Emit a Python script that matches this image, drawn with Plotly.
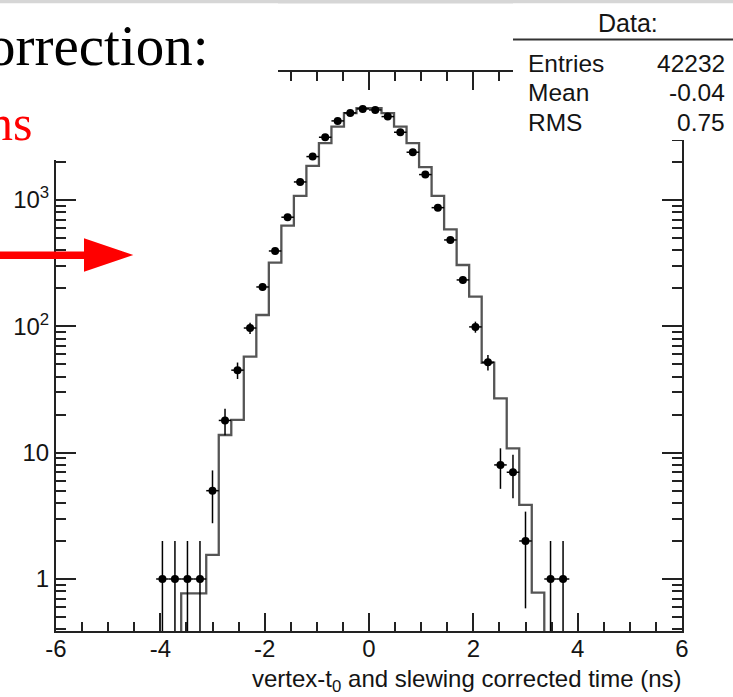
import numpy as np
import plotly.graph_objects as go

# ---------------- data ----------------
x_min, x_max, n_bins = -6.0, 6.0, 50
# measured data counts per bin (50 bins from -6 to 6)
data_counts = [0, 0, 0, 0, 0, 0, 0, 0,
               1, 1, 1, 1, 5, 18, 45, 97, 205, 395, 731, 1390,
               2207, 3140, 4230, 4895, 5265, 5165, 4575, 3440, 2390, 1590,
               870, 483, 233, 99, 52, 8, 7, 2, 0, 1,
               1, 0, 0, 0, 0, 0, 0, 0, 0, 0]
# simulation histogram (normalised) per bin
mc_counts = [0, 0, 0, 0, 0, 0, 0, 0, 0, 0,
             0.77, 0.77, 1.55, 13.8, 18.2, 57.6, 123, 319, 627, 1077,
             1862, 2820, 3810, 4865, 5330, 5330, 4865, 3810, 2820, 1820,
             1077, 586, 306, 172, 51.5, 26.9, 10.8, 3.86, 0.78, 0,
             0, 0, 0, 0, 0, 0, 0, 0, 0, 0]

stats_title = "Data:"
stats_labels = ["Entries", "Mean", "RMS"]
stats_values = ["42232", "-0.04", "0.75"]

x_tickvals = [-6, -4, -2, 0, 2, 4, 6]
x_ticktext = ["-6", "-4", "-2", "0", "2", "4", "6"]
y_tickvals = [1, 10, 100, 1000]
y_ticktext = ["1", "10", "10<sup>2</sup>", "10<sup>3</sup>"]
x_title = "vertex-t<sub>0</sub> and slewing corrected time (ns)"

# ---------------- geometry helpers ----------------
W, H = 733, 697
ML, MR, MT, MB = 56, 51, 72, 66
PW, PH = W - ML - MR, H - MT - MB


def px(xp):
    return (xp - ML) / PW


def py(yp):
    return (H - MB - yp) / PH


edges = np.linspace(x_min, x_max, n_bins + 1)
centers = 0.5 * (edges[:-1] + edges[1:])
half_w = 0.5 * (edges[1] - edges[0])

data = np.array(data_counts, dtype=float)
mc = np.array(mc_counts, dtype=float)

# step line for simulation histogram (zero bins dropped below the axis)
floor = 1e-3
mc_plot = np.where(mc > 0, mc, floor)
step_x = list(edges)
step_y = list(mc_plot) + [floor]

mask = data > 0
dx = centers[mask]
dy = data[mask]
err = np.sqrt(dy)
err_minus = np.minimum(err, dy * 0.999)

font_sans = "Liberation Sans, Arial, Helvetica, sans-serif"
font_serif = "Liberation Serif, Times New Roman, serif"
TXT = "#141414"

fig = go.Figure()
fig.add_trace(go.Scatter(
    x=step_x, y=step_y, mode="lines", line_shape="hv",
    line=dict(color="#555555", width=2.3), hoverinfo="skip"))
fig.add_trace(go.Scatter(
    x=dx, y=dy, mode="markers",
    marker=dict(color="black", size=8, symbol="circle"),
    error_y=dict(type="data", array=err, arrayminus=err_minus,
                 color="black", thickness=1.5, width=0),
    error_x=dict(type="constant", value=half_w, color="black",
                 thickness=1.5, width=0)))

axis_common = dict(showgrid=False, zeroline=False, showline=True,
                   linecolor="#222222", linewidth=2, mirror="allticks",
                   ticks="inside", tickcolor="#222222", tickwidth=1.5,
                   tickfont=dict(family=font_sans, size=24, color=TXT))

fig.update_xaxes(range=[x_min, x_max], tickvals=x_tickvals, ticktext=x_ticktext,
                 ticklen=18, ticklabelstandoff=-5,
                 minor=dict(ticks="inside", dtick=0.5, tick0=-6, ticklen=9,
                            tickcolor="#222222", tickwidth=1.5),
                 **axis_common)
fig.update_yaxes(type="log", range=[-0.4116, 4.0134],
                 tickvals=y_tickvals, ticktext=y_ticktext, ticklen=20,
                 minor=dict(ticks="inside", dtick="D1", ticklen=10,
                            tickcolor="#222222", tickwidth=1.5),
                 **axis_common)

shapes = []
# top grey band of the slide
shapes.append(dict(type="rect", xref="paper", yref="paper",
                   x0=px(-5), x1=px(W + 5), y0=py(3.5), y1=py(-5),
                   fillcolor="#d6d6d6", line=dict(width=0), layer="above"))
# white boxes hiding parts of the frame
shapes.append(dict(type="rect", xref="paper", yref="paper",
                   x0=px(-5), x1=px(278), y0=py(160), y1=py(3.5),
                   fillcolor="white", line=dict(width=0), layer="above"))
shapes.append(dict(type="rect", xref="paper", yref="paper",
                   x0=px(513), x1=px(W + 5), y0=py(140), y1=py(3.5),
                   fillcolor="white", line=dict(width=0), layer="above"))
# line under stats title
shapes.append(dict(type="line", xref="paper", yref="paper",
                   x0=px(513), x1=px(W + 5), y0=py(39.5), y1=py(39.5),
                   line=dict(color="#333333", width=2), layer="above"))
# red arrow
pts = [(-5, 251.5), (84, 251.5), (84, 238.3), (133.3, 255), (84, 271.7),
       (84, 259), (-5, 259)]
path = "M " + " L ".join(f"{px(a):.5f},{py(b):.5f}" for a, b in pts) + " Z"
shapes.append(dict(type="path", xref="paper", yref="paper", path=path,
                   fillcolor="#ff0000", line=dict(color="#ff0000", width=0),
                   layer="above"))

annotations = []
annotations.append(dict(text="orrection:", xref="paper", yref="paper",
                        x=px(211), y=py(45), xanchor="right", yanchor="middle",
                        showarrow=False,
                        font=dict(family=font_serif, size=57, color="black")))
annotations.append(dict(text="ns", xref="paper", yref="paper",
                        x=px(34), y=py(123), xanchor="right", yanchor="middle",
                        showarrow=False,
                        font=dict(family=font_serif, size=50, color="#ff0000")))
annotations.append(dict(text=stats_title, xref="paper", yref="paper",
                        x=px(628), y=py(23), xanchor="center", yanchor="middle",
                        showarrow=False,
                        font=dict(family=font_sans, size=25, color=TXT)))
for i, (lab, val) in enumerate(zip(stats_labels, stats_values)):
    yy = 63 + i * 29.5
    annotations.append(dict(text=lab, xref="paper", yref="paper",
                            x=px(526), y=py(yy), xanchor="left", yanchor="middle",
                            showarrow=False,
                            font=dict(family=font_sans, size=24.5, color=TXT)))
    annotations.append(dict(text=val, xref="paper", yref="paper",
                            x=px(727), y=py(yy), xanchor="right", yanchor="middle",
                            showarrow=False,
                            font=dict(family=font_sans, size=24.5, color=TXT)))
annotations.append(dict(text=x_title, xref="paper", yref="paper",
                        x=px(684), y=py(680), xanchor="right", yanchor="middle",
                        showarrow=False,
                        font=dict(family=font_sans, size=24, color=TXT)))

fig.update_layout(width=W, height=H,
                  margin=dict(l=ML, r=MR, t=MT, b=MB, pad=0),
                  paper_bgcolor="white", plot_bgcolor="white",
                  showlegend=False, shapes=shapes, annotations=annotations)

fig.write_html("out.html")
